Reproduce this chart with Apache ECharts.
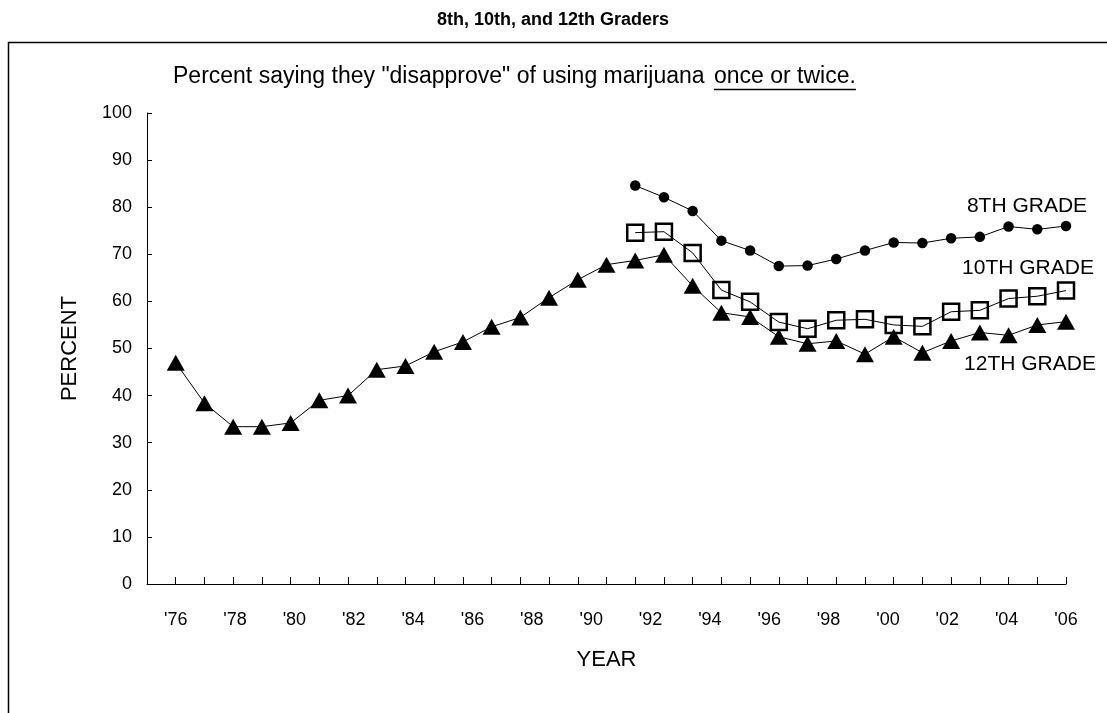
<!DOCTYPE html>
<html>
<head>
<meta charset="utf-8">
<script src="https://cdn.jsdelivr.net/npm/echarts@6/dist/echarts.min.js"></script>
<style>
html,body{margin:0;padding:0;background:#fff;}
#chart{width:1107px;height:713px;}
</style>
</head>
<body>
<div id="chart"></div>
<script>
// ---- data ----
var years12 = [1975,1976,1977,1978,1979,1980,1981,1982,1983,1984,1985,1986,1987,1988,1989,1990,1991,1992,1993,1994,1995,1996,1997,1998,1999,2000,2001,2002,2003,2004,2005,2006];
var grade12 = [47.0,38.4,33.4,33.4,34.2,39.0,40.0,45.5,46.3,49.3,51.4,54.6,56.6,60.8,64.6,67.8,68.7,69.9,63.3,57.6,56.7,52.5,51.0,51.6,48.8,52.5,49.1,51.6,53.4,52.8,55.0,55.7];
var years810 = [1991,1992,1993,1994,1995,1996,1997,1998,1999,2000,2001,2002,2003,2004,2005,2006];
var grade10 = [74.6,74.8,70.3,62.4,59.9,55.6,54.2,56.0,56.2,55.0,54.7,57.8,58.1,60.6,61.1,62.3];
var grade8 = [84.6,82.1,79.2,72.9,70.8,67.5,67.6,69.0,70.8,72.5,72.4,73.4,73.7,75.9,75.3,76.0];
var tickLabels = ["'76","'78","'80","'82","'84","'86","'88","'90","'92","'94","'96","'98","'00","'02","'04","'06"];
var yTicks = [0,10,20,30,40,50,60,70,80,90,100];

var FONT = "'Liberation Sans', Arial, sans-serif";
var chart = echarts.init(document.getElementById('chart'));

function pairs(xs, ys){ return xs.map(function(x,i){ return [x, ys[i]]; }); }

var subA = 'Percent saying they "disapprove" of using marijuana';
var subB = 'once or twice.';
var ctx = document.createElement('canvas').getContext('2d');
ctx.font = '23px ' + FONT;
var subBx = 714;
var subBw = ctx.measureText(subB).width;

var option = {
  backgroundColor: '#fff',
  animation: false,
  textStyle: { fontFamily: FONT, color: '#000' },
  grid: [
    { left: 147, right: 41, top: 113, bottom: 129 },
    { left: 175.7, right: 41, top: 113, bottom: 129 }
  ],
  xAxis: [
    {
      type: 'value', gridIndex: 0, min: 1974, max: 2006, interval: 1,
      axisLine: { show: true, lineStyle: { color: '#000', width: 1 } },
      axisTick: { show: true, inside: true, length: 7, lineStyle: { color: '#000' } },
      axisLabel: { show: false },
      splitLine: { show: false },
      name: 'YEAR', nameLocation: 'middle', nameGap: 65,
      nameTextStyle: { fontSize: 22, fontFamily: FONT, color: '#000' }
    },
    {
      type: 'category', gridIndex: 1, boundaryGap: false, data: tickLabels,
      axisLine: { show: false }, axisTick: { show: false },
      axisLabel: { show: true, interval: 0, margin: 27, fontSize: 18, fontFamily: FONT, color: '#000' },
      splitLine: { show: false }
    }
  ],
  yAxis: [
    {
      type: 'value', gridIndex: 0, min: 0, max: 100, interval: 10,
      axisLine: { show: true, lineStyle: { color: '#000', width: 1 } },
      axisTick: { show: true, inside: true, length: 5, lineStyle: { color: '#000' } },
      axisLabel: { margin: 15, fontSize: 18, fontFamily: FONT, color: '#000',
        formatter: function(v){ return yTicks.indexOf(v) >= 0 ? String(v) : ''; } },
      splitLine: { show: false },
      name: 'PERCENT', nameLocation: 'middle', nameGap: 66, nameRotate: 90,
      nameTextStyle: { fontSize: 22, fontFamily: FONT, color: '#000' }
    },
    { type: 'value', gridIndex: 1, min: 0, max: 100, show: false }
  ],
  series: [
    {
      name: '12TH GRADE', type: 'line', xAxisIndex: 0, yAxisIndex: 0,
      data: pairs(years12, grade12),
      symbol: 'triangle', symbolSize: [18, 16],
      lineStyle: { color: '#000', width: 1 },
      itemStyle: { color: '#000', borderWidth: 0 },
      z: 2
    },
    {
      name: '10TH GRADE', type: 'line', xAxisIndex: 0, yAxisIndex: 0,
      data: pairs(years810, grade10),
      symbol: 'rect', symbolSize: 16,
      lineStyle: { color: '#000', width: 1 },
      itemStyle: { color: 'rgba(255,255,255,0)', borderColor: '#000', borderWidth: 2.5 },
      z: 3
    },
    {
      name: '8TH GRADE', type: 'line', xAxisIndex: 0, yAxisIndex: 0,
      data: pairs(years810, grade8),
      symbol: 'circle', symbolSize: 10.5,
      lineStyle: { color: '#000', width: 1 },
      itemStyle: { color: '#000', borderWidth: 0 },
      z: 4
    }
  ],
  graphic: [
    { type: 'rect', silent: true, shape: { x: 8.5, y: 42.5, width: 1300, height: 900 },
      style: { fill: 'none', stroke: '#000', lineWidth: 1.5 } },
    { type: 'text', x: 553, y: 20,
      style: { text: '8th, 10th, and 12th Graders', font: 'bold 18px ' + FONT, fill: '#000', textAlign: 'center', textVerticalAlign: 'middle' } },
    { type: 'text', x: 173, y: 77,
      style: { text: subA, font: '23px ' + FONT, fill: '#000', textVerticalAlign: 'middle', textAlign: 'left' } },
    { type: 'text', x: subBx, y: 77,
      style: { text: subB, font: '23px ' + FONT, fill: '#000', textVerticalAlign: 'middle', textAlign: 'left' } },
    { type: 'line', shape: { x1: subBx, y1: 89.5, x2: subBx + subBw, y2: 89.5 },
      style: { stroke: '#000', lineWidth: 1.5 } },
    { type: 'text', x: 1027, y: 206,
      style: { text: '8TH GRADE', font: '21px ' + FONT, fill: '#000', textAlign: 'center', textVerticalAlign: 'middle' } },
    { type: 'text', x: 1028, y: 268,
      style: { text: '10TH GRADE', font: '21px ' + FONT, fill: '#000', textAlign: 'center', textVerticalAlign: 'middle' } },
    { type: 'text', x: 1030, y: 364,
      style: { text: '12TH GRADE', font: '21px ' + FONT, fill: '#000', textAlign: 'center', textVerticalAlign: 'middle' } }
  ]
};
chart.setOption(option);
</script>
</body>
</html>
